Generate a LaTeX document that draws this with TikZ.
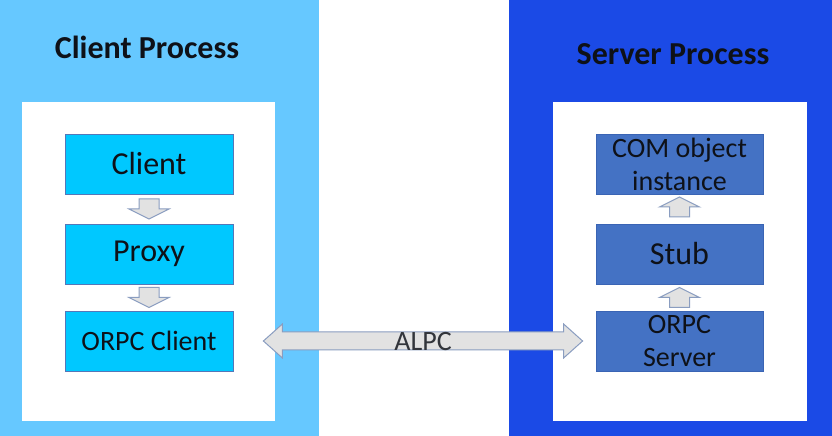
\documentclass[tikz,border=0pt]{standalone}
\usepackage{fontspec}
\setmainfont{Carlito}
\usetikzlibrary{calc}
\definecolor{lightpanel}{HTML}{66C8FF}
\definecolor{darkpanel}{HTML}{1B4AE6}
\definecolor{cyanbox}{HTML}{00C8FF}
\definecolor{cyanedge}{HTML}{5577B8}
\definecolor{srvbox}{HTML}{4472C4}
\definecolor{srvedge}{HTML}{3A64B4}
\definecolor{arrfill}{HTML}{E2E2E2}
\definecolor{arredge}{HTML}{8A9DC0}
\definecolor{txt}{HTML}{0E1118}
\tikzset{
  cbox/.style={draw=cyanedge, line width=0.8bp, fill=cyanbox, minimum width=168bp, minimum height=60bp, inner sep=0pt, align=center, text=txt},
  sbox/.style={draw=srvedge, line width=0.8bp, fill=srvbox, minimum width=167bp, minimum height=60bp, inner sep=0pt, align=center, text=txt},
  blk/.style={draw=arredge, fill=arrfill, line width=1bp, line join=miter},
  ttl/.style={font=\fontsize{32bp}{36bp}\selectfont\bfseries, text=txt},
  big/.style={font=\fontsize{32bp}{36bp}\selectfont},
  med/.style={font=\fontsize{28bp}{33bp}\selectfont},
}
\begin{document}
\begin{tikzpicture}[x=1bp,y=-1bp]
\useasboundingbox (0,0) rectangle (832,436);
\fill[white] (0,0) rectangle (832,436);
% panels
\fill[lightpanel] (0,0) rectangle (319,436);
\fill[darkpanel] (509,0) rectangle (832,436);
\fill[white] (22,102) rectangle (275,421);
\fill[white] (553,102) rectangle (807,421);
% titles
\node[ttl] (ctitle) at (147,47) {Client Process};
\node[ttl] (stitle) at (673,54) {Server Process};
% client side
\node[cbox, big] (client) at (149,164) {Client};
\node[cbox, big] (proxy) at (149,254) {Proxy};
\node[cbox, med] (orpcc) at (149,341) {ORPC Client};
% server side
\node[sbox, med] (com) at (679.5,164) {COM object\\instance};
\node[sbox, big] (stub) at (679.5,254) {Stub};
\node[sbox, med] (orpcs) at (679.5,341) {ORPC\\Server};
% down arrows (client)
\coordinate (d1) at ($(client.south)!0.5!(proxy.north)$);
\coordinate (d2) at ($(proxy.south)!0.5!(orpcc.north)$);
\foreach \c in {d1,d2}{
  \draw[blk] (\c) ++(-10,-10) -- ++(20,0) -- ++(0,10) -- ++(10,0) -- ++(-20,10) -- ++(-20,-10) -- ++(10,0) -- cycle;
}
% up arrows (server)
\coordinate (u1) at ($(com.south)!0.5!(stub.north)+(0,-2)$);
\coordinate (u2) at ($(stub.south)!0.5!(orpcs.north)$);
\foreach \c in {u1,u2}{
  \draw[blk] (\c) ++(0,-10) -- ++(20,10) -- ++(-10,0) -- ++(0,10) -- ++(-20,0) -- ++(0,-10) -- ++(-10,0) -- cycle;
}
% ALPC double arrow
\coordinate (lt) at ($(orpcc.east)+(30,0)$);
\coordinate (rt) at ($(orpcs.west)+(-13,0)$);
\draw[blk] (lt) -- ++(19,-17) -- ++(0,8) -- ([shift={(-19,-9)}]rt) -- ++(0,-8) -- (rt)
  -- ++(-19,17) -- ++(0,-8) -- ([shift={(19,9)}]lt) -- ++(0,8) -- cycle;
\node[med, text=txt!85] (alpc) at ($(lt)!0.5!(rt)+(0,1)$) {ALPC};
\end{tikzpicture}
\end{document}
